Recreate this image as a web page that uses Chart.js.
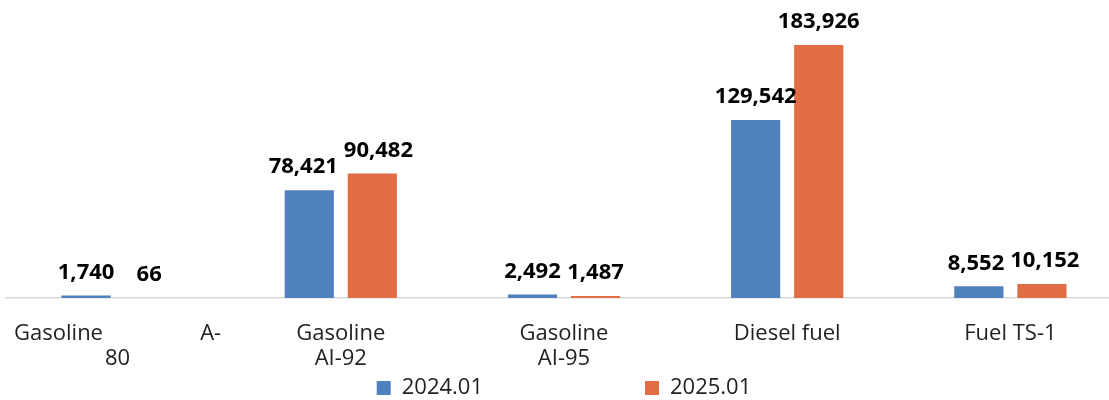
<!DOCTYPE html>
<html>
<head>
<meta charset="utf-8">
<script src="https://cdn.jsdelivr.net/npm/chart.js@4.4.1/dist/chart.umd.min.js"></script>
<style>
  body { margin: 0; overflow: hidden; background: #fff; }
  #box { position: absolute; left: 0; top: 0; width: 1122px; height: 400px; }
</style>
</head>
<body>
<div id="box"><canvas id="myChart"></canvas></div>
<script>
// categorias y valores
var categorias = [
  ['Gasoline                 A-', '80'],
  ['Gasoline', 'AI-92'],
  ['Gasoline', 'AI-95'],
  'Diesel fuel',
  'Fuel TS-1'
];
var serie2024 = [1740, 78421, 2492, 129542, 8552];
var serie2025 = [66, 90482, 1487, 183926, 10152];
var nombres = ['2024.01', '2025.01'];

// etiquetas encima de las barras (se separan si se tocan)
var etiquetas = {
  id: 'etiquetas',
  afterDatasetsDraw: function (chart) {
    var ctx = chart.ctx;
    ctx.save();
    ctx.font = 'bold 22px "Open Sans"';
    ctx.fillStyle = '#000';
    ctx.textAlign = 'center';
    ctx.textBaseline = 'middle';
    var a = chart.getDatasetMeta(0).data;
    var b = chart.getDatasetMeta(1).data;
    for (var j = 0; j < a.length; j++) {
      var t1 = serie2024[j].toLocaleString('en-US');
      var t2 = serie2025[j].toLocaleString('en-US');
      var x1 = a[j].x, x2 = b[j].x;
      var y1 = a[j].y - 23, y2 = b[j].y - 23;
      var r1 = x1 + ctx.measureText(t1).width / 2;
      var l2 = x2 - ctx.measureText(t2).width / 2;
      if (Math.abs(y1 - y2) < 22 && r1 + 6 > l2) {
        var d = (r1 + 6 - l2) / 2;
        x1 -= d;
        x2 += d;
      }
      ctx.fillText(t1, x1, y1);
      ctx.fillText(t2, x2, y2);
    }
    ctx.restore();
  }
};

var ctx = document.getElementById('myChart').getContext('2d');
var chart = new Chart(ctx, {
  type: 'bar',
  data: {
    labels: categorias,
    datasets: [{
      label: nombres[0] + '                            ',
      backgroundColor: '#4F81BD',
      data: serie2024,
      barPercentage: 0.78,
      categoryPercentage: 0.565
    }, {
      label: nombres[1],
      backgroundColor: '#E06D44',
      data: serie2025,
      barPercentage: 0.78,
      categoryPercentage: 0.565
    }]
  },
  options: {
    responsive: true,
    maintainAspectRatio: false,
    animation: false,
    layout: { padding: { left: 6, right: 0, top: 23, bottom: -9 } },
    plugins: {
      tooltip: { enabled: false },
      legend: {
        position: 'bottom',
        labels: {
          boxWidth: 14,
          boxHeight: 14,
          color: '#222',
          font: { family: 'Open Sans', size: 22 },
          padding: 2
        }
      }
    },
    scales: {
      x: {
        grid: { display: false, drawTicks: false },
        border: { color: '#D9D9D9', width: 1.5 },
        ticks: {
          color: '#222',
          font: { family: 'Open Sans', size: 22, lineHeight: 1.1 },
          padding: 24,
          maxRotation: 0,
          autoSkip: false
        },
        afterFit: function (s) {
          s.height = 77;
          s.paddingLeft = 0;
          s.paddingRight = 0;
        }
      },
      y: {
        display: false,
        min: 0,
        max: 200000
      }
    }
  },
  plugins: [etiquetas]
});
</script>
</body>
</html>
